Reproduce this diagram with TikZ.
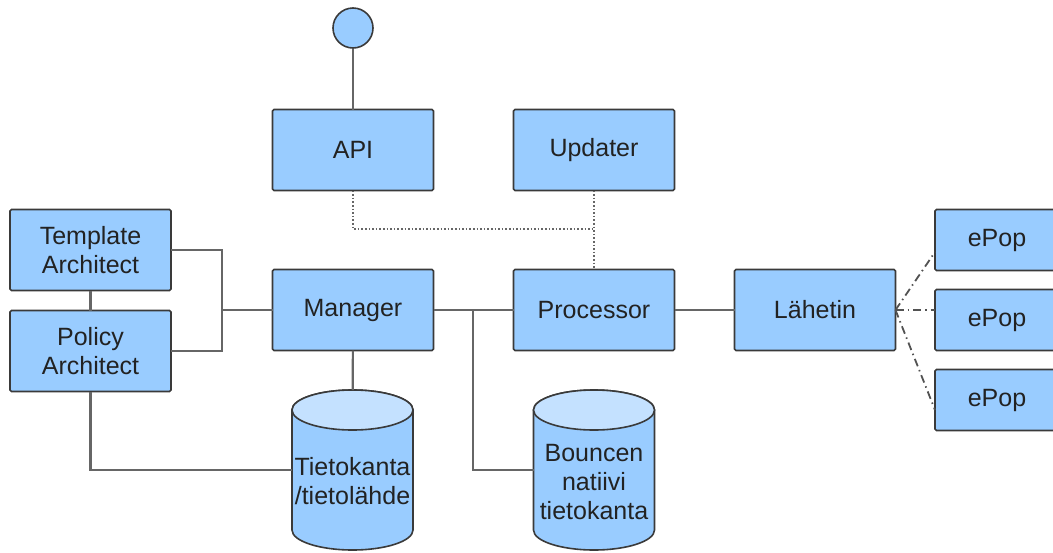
\documentclass[tikz,border=0pt]{standalone}
\usepackage{fontspec}
\setmainfont{Liberation Sans}
\usetikzlibrary{positioning}

\definecolor{boxblue}{HTML}{99CCFF}
\definecolor{lidblue}{HTML}{C4E1FF}
\definecolor{edgegray}{HTML}{3A3A3A}
\definecolor{wiregray}{HTML}{666666}
\definecolor{textgray}{HTML}{222222}

\begin{document}
\begin{tikzpicture}[x=1pt,y=-1pt,font=\fontsize{25}{29}\selectfont,text=textgray,
    box/.style={draw=edgegray,fill=boxblue,line width=1.6pt,rounded corners=1.5pt,
      minimum width=161pt,minimum height=81pt,align=center,inner sep=0pt,outer sep=0pt},
    popbox/.style={box,minimum width=124pt,minimum height=61pt},
    db/.style={minimum width=121pt,minimum height=160pt,inner sep=0pt,outer sep=0pt},
    dbtext/.style={align=center,inner sep=0pt},
    wire/.style={draw=wiregray,line width=2.2pt},
    dots/.style={draw=wiregray,line width=1.6pt,dotted},
    dashdot/.style={draw=wiregray!80!black,line width=1.8pt,dash pattern=on 8pt off 4pt on 1.5pt off 4pt}]
  \clip (0,0) rectangle (1053,552);

  % databases first, so their text sits on top
  \node (tk) [db] at (352.5,470) {};
  \node (bdb) [db] at (594,470) {};
  \foreach \c in {tk,bdb} {
    \draw[draw=edgegray,fill=boxblue,line width=1.6pt]
      ([yshift=-20pt]\c.north west) -- ([yshift=20pt]\c.south west)
      arc[start angle=180,end angle=360,x radius=60.5pt,y radius=20pt]
      -- ([yshift=-20pt]\c.north east)
      arc[start angle=0,end angle=180,x radius=60.5pt,y radius=20pt] -- cycle;
    \draw[draw=edgegray,fill=lidblue,line width=1.6pt]
      ([yshift=-20pt]\c.north) ellipse[x radius=60.5pt,y radius=20pt];
  }
  \node (tktext) [dbtext,yshift=-11pt] at (tk.center) {Tietokanta\\/tietolähde};
  \node (bdbtext) [dbtext,yshift=-12pt] at (bdb.center) {Bouncen\\natiivi\\tietokanta};

  \node (port) [circle,draw=edgegray,fill=boxblue,line width=1.6pt,minimum size=40pt,inner sep=0pt] at (353,28) {};
  \node (api) [box] at (353,150) {API};
  \node (upd) [box] at (594,150) {Updater};
  \node (tmpl) [box] at (90.5,250) {Template\\Architect};
  \node (pol) [box,below=20pt of tmpl] {Policy\\Architect};
  \node (mgr) [box] at (353,310) {Manager};
  \node (proc) [box,right=80pt of mgr] {Processor};
  \node (lah) [box,right=60pt of proc] {Lähetin};
  \node (ep1) [popbox] at (997,240) {ePop};
  \node (ep2) [popbox,below=19pt of ep1] {ePop};
  \node (ep3) [popbox,below=19pt of ep2] {ePop};

  \coordinate (jn) at (594,229);
  \coordinate (bus) at (222,310);
  \coordinate (br) at (473,310);

  \draw[wire] (port) -- (api);
  \draw[dots] (api.south) |- (jn);
  \draw[dots] (upd) -- (proc);
  \draw[wire] (tmpl) -- (pol);
  \draw[wire] (tmpl.east) -| (bus) -- (mgr.west);
  \draw[wire] (pol.east) -| (bus);
  \draw[wire] (pol.south) |- (tk.west);
  \draw[wire] (mgr) -- (tk);
  \draw[wire] (mgr) -- (proc);
  \draw[wire] (br) |- (bdb.west);
  \draw[wire] (proc) -- (lah);
  \draw[dashdot] (lah.east) -- ([yshift=-12pt]ep1.west);
  \draw[dashdot] (lah.east) -- (lah.east -| ep2.west);
  \draw[dashdot] (lah.east) -- ([yshift=-10pt]ep3.west);
\end{tikzpicture}
\end{document}
